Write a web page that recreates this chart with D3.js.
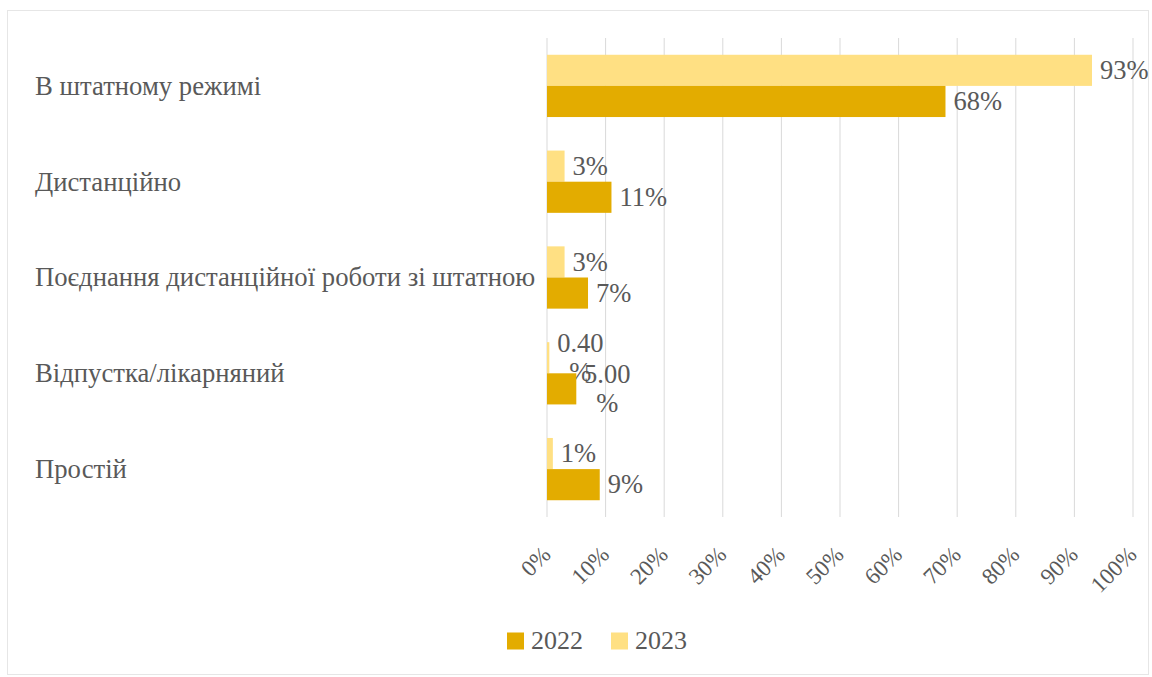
<!DOCTYPE html>
<html><head><meta charset="utf-8">
<script src="https://cdn.jsdelivr.net/npm/d3@7"></script>
</head>
<body style="margin:0"><svg id="c" width="1152" height="677"></svg>
<script>
const categories = ["В штатному режимі","Дистанційно","Поєднання дистанційної роботи зі штатною","Відпустка/лікарняний","Простій"];
const values2022 = [68, 11, 7, 5, 9];
const values2023 = [93, 3, 3, 0.4, 1];
const labels2022 = [["68%"],["11%"],["7%"],["5.00","%"],["9%"]];
const labels2023 = [["93%"],["3%"],["3%"],["0.40","%"],["1%"]];
const ticks = [0,10,20,30,40,50,60,70,80,90,100];
const seriesNames = ["2022","2023"];
const colors = {"2022":"#E3AC00","2023":"#FFE083"};
const FONT = '"Liberation Serif"';
const TXT = "#595959";

const svg = d3.select("#c");
svg.append("rect").attr("x",7.5).attr("y",10.5).attr("width",1141).attr("height",664)
  .attr("fill","#fff").attr("stroke","#e6e6e6");

const x = d3.scaleLinear().domain([0,100]).range([547,1133]);
const y = d3.scaleBand().domain(categories).range([38,517]).paddingInner(0.35).paddingOuter(0.175);
const ys = d3.scaleBand().domain(["2023","2022"]).range([0,y.bandwidth()]);

svg.append("g").selectAll("line").data(ticks).join("line")
  .attr("x1",d=>x(d)).attr("x2",d=>x(d)).attr("y1",38).attr("y2",517)
  .attr("stroke","#d9d9d9").attr("stroke-width",1);

svg.append("g").selectAll("text").data(categories).join("text")
  .attr("x",35).attr("y",d=>y(d)+y.bandwidth()/2).attr("dy","0.33em")
  .attr("font-size",26.7).style("font-family",FONT).attr("fill",TXT)
  .text(d=>d);

const rows = categories.map((c,i)=>({c,i}));
function drawSeries(name, vals, labs){
  const g = svg.append("g");
  g.selectAll("rect").data(rows).join("rect")
    .attr("x",x(0)).attr("y",d=>y(d.c)+ys(name))
    .attr("width",d=>x(vals[d.i])-x(0)).attr("height",ys.bandwidth())
    .attr("fill",colors[name]);
  const t = g.selectAll("text").data(rows).join("text")
    .attr("font-size",26.5).style("font-family",FONT).attr("fill",TXT)
    .attr("text-anchor",d=>labs[d.i].length>1 ? "middle" : "start");
  t.each(function(d){
    const el = d3.select(this);
    const lines = labs[d.i];
    const cy = y(d.c)+ys(name)+ys.bandwidth()/2;
    const multi = lines.length>1;
    lines.forEach((s,k)=>{
      el.append("tspan")
        .attr("x", x(vals[d.i]) + (multi ? 31 : 8))
        .attr("y", multi ? cy + (k===0 ? -14.5 : 14.5) : cy)
        .attr("dy","0.33em").text(s);
    });
  });
}
drawSeries("2023", values2023, labels2023);
drawSeries("2022", values2022, labels2022);

svg.append("g").selectAll("text").data(ticks).join("text")
  .attr("font-size",23).attr("text-anchor","end").style("font-family",FONT).attr("fill",TXT)
  .attr("transform",d=>`translate(${x(d)+5},${556}) rotate(-45)`)
  .text(d=>d+"%");

const lg = svg.append("g");
seriesNames.forEach((s,i)=>{
  const lx = 507 + i*104;
  lg.append("rect").attr("x",lx).attr("y",632.5).attr("width",17).attr("height",17).attr("fill",colors[s]);
  lg.append("text").attr("x",lx+24).attr("y",649).attr("font-size",26)
    .style("font-family",FONT).attr("fill",TXT).text(s);
});
</script></body></html>
